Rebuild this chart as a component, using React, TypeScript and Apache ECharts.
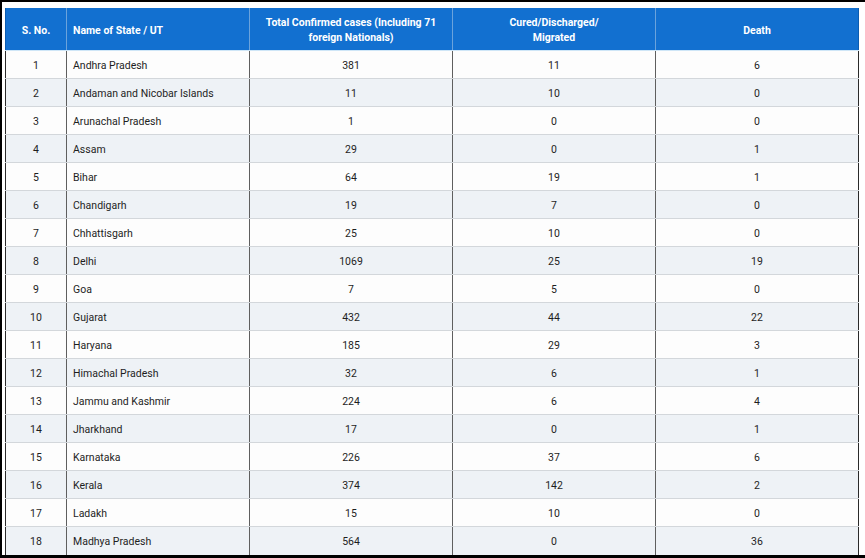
import React, { useEffect, useRef } from "react";
import * as echarts from "echarts";

const headers = [
  "S. No.",
  "Name of State / UT",
  "Total Confirmed cases (Including 71\nforeign Nationals)",
  "Cured/Discharged/\nMigrated",
  "Death",
];
const serialNumbers = [1, 2, 3, 4, 5, 6, 7, 8, 9, 10, 11, 12, 13, 14, 15, 16, 17, 18];
const states = [
  "Andhra Pradesh",
  "Andaman and Nicobar Islands",
  "Arunachal Pradesh",
  "Assam",
  "Bihar",
  "Chandigarh",
  "Chhattisgarh",
  "Delhi",
  "Goa",
  "Gujarat",
  "Haryana",
  "Himachal Pradesh",
  "Jammu and Kashmir",
  "Jharkhand",
  "Karnataka",
  "Kerala",
  "Ladakh",
  "Madhya Pradesh",
];
const confirmed = [381, 11, 1, 29, 64, 19, 25, 1069, 7, 432, 185, 32, 224, 17, 226, 374, 15, 564];
const cured = [11, 10, 0, 0, 19, 7, 10, 25, 5, 44, 29, 6, 6, 0, 37, 142, 10, 0];
const deaths = [6, 0, 0, 1, 1, 0, 0, 19, 0, 22, 3, 1, 4, 1, 6, 2, 0, 36];

// layout (column widths in px units of the x axis)
const columnWidths = [61, 183, 203, 203, 204];
const HEADER_ROWS = 43 / 28;

const edges: number[] = [0];
columnWidths.forEach((w) => edges.push(edges[edges.length - 1] + w));
const totalWidth = edges[edges.length - 1];
const nRows = states.length;

function cellText(c: number, r: number): string {
  if (r < 0) return headers[c];
  switch (c) {
    case 0: return String(serialNumbers[r]);
    case 1: return states[r];
    case 2: return String(confirmed[r]);
    case 3: return String(cured[r]);
    default: return String(deaths[r]);
  }
}
function rowTop(r: number) { return r < 0 ? -HEADER_ROWS : r; }
function rowBottom(r: number) { return r < 0 ? 0 : r + 1; }

export default function App() {
  const ref = useRef<HTMLDivElement>(null);
  useEffect(() => {
    if (!ref.current) return;
    const chart = echarts.init(ref.current, undefined, { renderer: "svg" });

    const cellData: number[][] = [];
    for (let r = -1; r < nRows; r++) for (let c = 0; c < headers.length; c++) cellData.push([c, r]);
    const ruleData: number[][] = [];
    for (let r = -1; r < nRows; r++) ruleData.push([0, r]);

    const FONT = "Roboto, 'Noto Sans', Arial, sans-serif";

    chart.setOption({
      animation: false,
      backgroundColor: "#ffffff",
      grid: { left: 5, top: 8, width: totalWidth, height: 547, containLabel: false },
      xAxis: { type: "value", min: 0, max: totalWidth, show: false },
      yAxis: { type: "value", min: -HEADER_ROWS, max: nRows, inverse: true, show: false },
      graphic: [
        { type: "rect", shape: { x: 0, y: 0, width: 865, height: 2 }, style: { fill: "#000" }, z: 100 },
        { type: "rect", shape: { x: 0, y: 0, width: 2, height: 558 }, style: { fill: "#000" }, z: 100 },
        { type: "rect", shape: { x: 0, y: 555, width: 865, height: 3 }, style: { fill: "#000" }, z: 100 },
      ],
      series: [
        {
          type: "custom",
          coordinateSystem: "cartesian2d",
          data: cellData,
          z: 1,
          renderItem: (params: any, api: any) => {
            const c = api.value(0);
            const r = api.value(1);
            const p0 = api.coord([edges[c], rowTop(r)]);
            const p1 = api.coord([edges[c + 1], rowBottom(r)]);
            const isHeader = r < 0;
            const fill = isHeader ? "#1270d0" : r % 2 === 0 ? "#fdfdfd" : "#eef2f6";
            const leftAlign = c === 1;
            const tx = Math.round(leftAlign ? p0[0] + 7 : (p0[0] + p1[0]) / 2);
            const ty = Math.round((p0[1] + p1[1]) / 2);
            return {
              type: "group",
              children: [
                {
                  type: "rect",
                  shape: { x: p0[0], y: p0[1], width: p1[0] - p0[0], height: p1[1] - p0[1] },
                  style: { fill },
                },
                {
                  type: "text",
                  x: tx,
                  y: ty,
                  style: {
                    text: cellText(c, r),
                    fill: isHeader ? "#ffffff" : "#1e1e1e",
                    font: (isHeader ? "bold 10.5px " : "10.5px ") + FONT,
                    align: leftAlign ? "left" : "center",
                    verticalAlign: "middle",
                    lineHeight: 15,
                  },
                },
              ],
            };
          },
        },
        {
          type: "custom",
          coordinateSystem: "cartesian2d",
          data: ruleData,
          z: 2,
          renderItem: (params: any, api: any) => {
            const r = api.value(1);
            const isHeader = r < 0;
            const top = api.coord([0, rowTop(r)])[1];
            const bottom = api.coord([0, rowBottom(r)])[1];
            const children: any[] = [];
            edges.forEach((e, i) => {
              const x = Math.round(api.coord([e, 0])[0]) + (i === edges.length - 1 ? -0.5 : 0.5);
              const outer = i === 0 || i === edges.length - 1;
              children.push({
                type: "line",
                shape: { x1: x, y1: top, x2: x, y2: bottom },
                style: {
                  stroke: isHeader ? (outer ? "#0b5cb0" : "#6aa3dc") : outer ? "#2a2a2a" : "#5f5f5f",
                  lineWidth: 1,
                },
              });
            });
            const yb = Math.round(bottom) - 0.5;
            if (r < nRows - 1) {
              children.push({
                type: "line",
                shape: { x1: api.coord([0, 0])[0], y1: yb, x2: api.coord([totalWidth, 0])[0], y2: yb },
                style: { stroke: isHeader ? "#cfe6f7" : "#d3d7db", lineWidth: 1 },
              });
            }
            return { type: "group", children };
          },
        },
      ],
    });
    return () => chart.dispose();
  }, []);
  return (
    <div
      ref={ref}
      style={{ position: "absolute", left: 0, top: 0, width: 865, height: 558 }}
    />
  );
}
